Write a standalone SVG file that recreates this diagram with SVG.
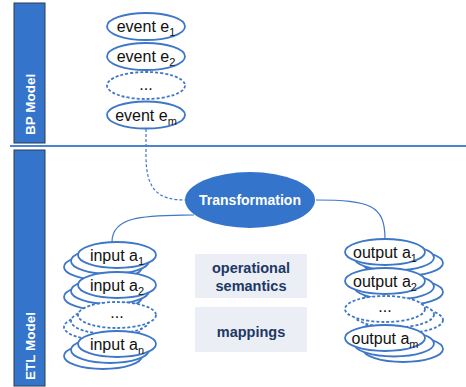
<svg xmlns="http://www.w3.org/2000/svg" width="466" height="387" viewBox="0 0 466 387">
<defs>
<style>
.bar{fill:#3474CB;stroke:#2E3B4E;stroke-width:1}
.bartxt{font-family:"Liberation Sans",Arial,sans-serif;font-weight:bold;font-size:13.5px;fill:#fff;text-anchor:start}
.el{fill:#fff;stroke:#3F77C8;stroke-width:1.8}
.dash{stroke-dasharray:3 2}
.t{font-family:"Liberation Sans",Arial,sans-serif;font-size:16px;fill:#111;text-anchor:middle}
.sub{font-size:11px}
.conn{fill:none;stroke:#3F77C8;stroke-width:1.2}
.box{fill:#EBEEF4}
.btxt{font-family:"Liberation Sans",Arial,sans-serif;font-weight:bold;font-size:14.5px;fill:#203864;text-anchor:middle}
</style>
</defs>
<rect width="466" height="387" fill="#fff"/>
<g id="bp-lane">
<rect class="bar" x="14" y="3" width="31" height="140"/>
<text class="bartxt" transform="translate(34.5,135) rotate(-90)">BP Model</text>
</g>
<g id="etl-lane">
<rect class="bar" x="14" y="150" width="31" height="236"/>
<text class="bartxt" transform="translate(34.5,380) rotate(-90)">ETL Model</text>
</g>
<line x1="10" y1="146" x2="466" y2="146" stroke="#4A84D3" stroke-width="2"/>
<g id="connectors">
<path class="conn dash" d="M146,129 L146,156 C146,192 160,200 186,200"/>
<path class="conn" d="M194,215 C150,216 112,214 112,242"/>
<path class="conn" d="M316,200 C370,200 385,205 385,239"/>
</g>
<g id="event-e1"><ellipse class="el" cx="146" cy="26.5" rx="39" ry="13.5"/><text class="t" x="146" y="32">event e<tspan class="sub" dy="4">1</tspan></text></g>
<g id="event-e2"><ellipse class="el" cx="146" cy="56.5" rx="39" ry="13.5"/><text class="t" x="146" y="62">event e<tspan class="sub" dy="4">2</tspan></text></g>
<g id="event-dots"><ellipse class="el dash" cx="146" cy="85.5" rx="39" ry="13.5"/><text class="t" x="146" y="90">...</text></g>
<g id="event-em"><ellipse class="el" cx="146" cy="115" rx="39" ry="13.5"/><text class="t" x="146" y="120.5">event e<tspan class="sub" dy="4">m</tspan></text></g>
<g id="transformation">
<ellipse cx="250" cy="200" rx="65" ry="28" fill="#3474CB"/>
<text x="250" y="205" font-family="Liberation Sans,Arial,sans-serif" font-weight="bold" font-size="14" fill="#fff" text-anchor="middle">Transformation</text>
</g>
<g id="input-a1">
<ellipse class="el" cx="103" cy="267" rx="39" ry="13"/><ellipse class="el" cx="110" cy="261" rx="39" ry="13"/><ellipse class="el" cx="117" cy="255" rx="39" ry="13"/>
<text class="t" x="117" y="260.5">input a<tspan class="sub" dy="4">1</tspan></text>
</g>
<g id="input-a2">
<ellipse class="el" cx="103" cy="297" rx="39" ry="13"/><ellipse class="el" cx="110" cy="291" rx="39" ry="13"/><ellipse class="el" cx="117" cy="285" rx="39" ry="13"/>
<text class="t" x="117" y="290.5">input a<tspan class="sub" dy="4">2</tspan></text>
</g>
<g id="input-dots">
<ellipse class="el dash" cx="103" cy="327" rx="39" ry="13"/><ellipse class="el dash" cx="110" cy="321" rx="39" ry="13"/><ellipse class="el dash" cx="117" cy="315" rx="39" ry="13"/>
<text class="t" x="117" y="318">...</text>
</g>
<g id="input-an">
<ellipse class="el" cx="103" cy="356" rx="39" ry="13"/><ellipse class="el" cx="110" cy="350" rx="39" ry="13"/><ellipse class="el" cx="117" cy="344" rx="39" ry="13"/>
<text class="t" x="117" y="349.5">input a<tspan class="sub" dy="4">n</tspan></text>
</g>
<g id="output-a1">
<ellipse class="el" cx="403" cy="263" rx="40" ry="13"/><ellipse class="el" cx="394" cy="257.5" rx="40" ry="13"/><ellipse class="el" cx="385" cy="252" rx="40" ry="13"/>
<text class="t" x="385" y="257.5">output a<tspan class="sub" dy="4">1</tspan></text>
</g>
<g id="output-a2">
<ellipse class="el" cx="403" cy="292" rx="40" ry="13"/><ellipse class="el" cx="394" cy="286.5" rx="40" ry="13"/><ellipse class="el" cx="385" cy="281" rx="40" ry="13"/>
<text class="t" x="385" y="286.5">output a<tspan class="sub" dy="4">2</tspan></text>
</g>
<g id="output-dots">
<ellipse class="el dash" cx="403" cy="320" rx="40" ry="13"/><ellipse class="el dash" cx="394" cy="314.5" rx="40" ry="13"/><ellipse class="el dash" cx="385" cy="309" rx="40" ry="13"/>
<text class="t" x="385" y="312">...</text>
</g>
<g id="output-am">
<ellipse class="el" cx="403" cy="349" rx="40" ry="13"/><ellipse class="el" cx="394" cy="343.5" rx="40" ry="13"/><ellipse class="el" cx="385" cy="338" rx="40" ry="13"/>
<text class="t" x="385" y="343.5">output a<tspan class="sub" dy="4">m</tspan></text>
</g>
<g id="operational-semantics">
<rect class="box" x="195" y="254" width="112" height="44"/>
<text class="btxt" x="251" y="273">operational</text>
<text class="btxt" x="251" y="291">semantics</text>
</g>
<g id="mappings">
<rect class="box" x="195" y="307" width="112" height="45"/>
<text class="btxt" x="251" y="337">mappings</text>
</g>
</svg>
